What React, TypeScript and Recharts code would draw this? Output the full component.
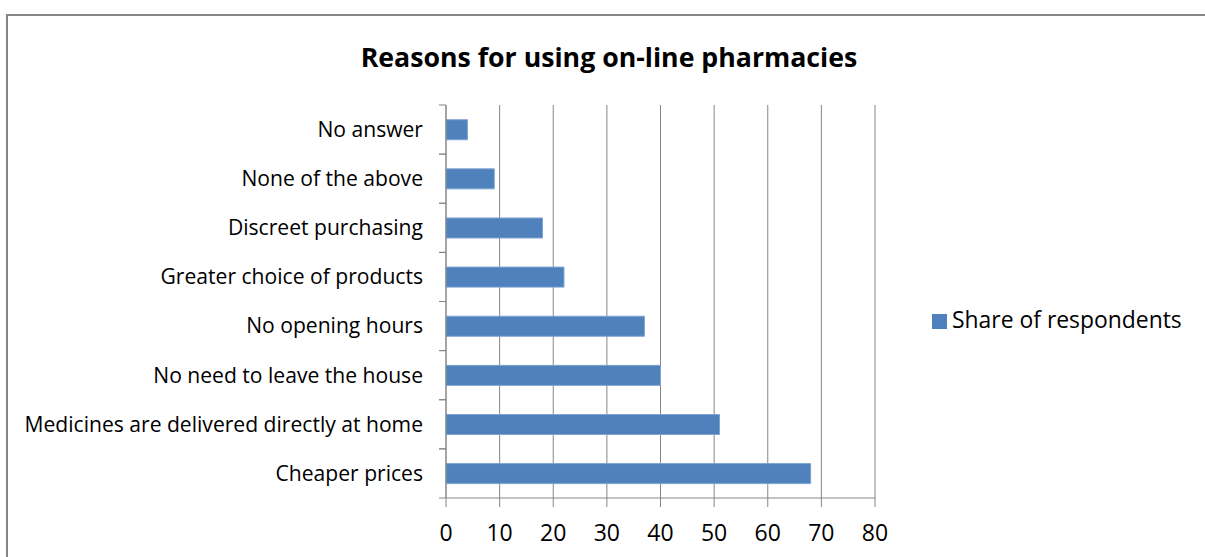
import { BarChart, Bar, XAxis, YAxis, CartesianGrid, Legend } from 'recharts';

const categories = [
  'No answer',
  'None of the above',
  'Discreet purchasing',
  'Greater choice of products',
  'No opening hours',
  'No need to leave the house',
  'Medicines are delivered directly at home',
  'Cheaper prices',
];
const shares = [4, 9, 18, 22, 37, 40, 51, 68];
const xTicks = [0, 10, 20, 30, 40, 50, 60, 70, 80];

const data = categories.map((name, i) => ({ name, share: shares[i] }));

const FONT = '"Open Sans", sans-serif';
const GREY = '#868686';
const BLUE = '#4F81BD';
const PLOT_TOP = 105;
const PLOT_BOTTOM = 498;
const BAND = (PLOT_BOTTOM - PLOT_TOP) / categories.length;

// category label + small boundary ticks like Excel
function CategoryTick(props: any) {
  const { y, payload } = props;
  return (
    <g>
      <line x1={439} x2={446} y1={y - BAND / 2} y2={y - BAND / 2} stroke={GREY} />
      <line x1={439} x2={446} y1={y + BAND / 2} y2={y + BAND / 2} stroke={GREY} />
      <text x={423} y={y} dy="0.35em" textAnchor="end" fontFamily={FONT} fontSize={21.1} fill="#000">
        {payload.value}
      </text>
    </g>
  );
}

function LegendBox(props: any) {
  const item = props.payload && props.payload[0];
  if (!item) return null;
  return (
    <div style={{ position: 'relative', width: 0, height: 0 }}>
      <div style={{ position: 'absolute', left: 931.5, top: 314, width: 15, height: 15, background: item.color }} />
      <div
        style={{
          position: 'absolute',
          left: 952,
          top: 308.7,
          whiteSpace: 'nowrap',
          fontFamily: FONT,
          fontSize: 22.9,
          lineHeight: 1,
          color: '#000',
        }}
      >
        {item.value}
      </div>
    </div>
  );
}

export default function App() {
  return (
    <div style={{ position: 'absolute', left: 0, top: 0, width: 1205, height: 557, background: '#fff', overflow: 'hidden' }}>
      <div
        style={{
          position: 'absolute',
          left: 6,
          top: 14,
          width: 1300,
          height: 700,
          borderTop: `2px solid ${GREY}`,
          borderLeft: `2px solid ${GREY}`,
        }}
      />
      <div
        style={{
          position: 'absolute',
          left: 0,
          top: 38,
          width: 1218,
          textAlign: 'center',
          fontFamily: FONT,
          fontWeight: 700,
          fontSize: 26.7,
          color: '#000',
        }}
      >
        Reasons for using on-line pharmacies
      </div>
      <div style={{ position: 'absolute', left: 0, top: 0 }}>
        <BarChart
          width={1205}
          height={557}
          data={data}
          layout="vertical"
          barCategoryGap="30%"
          margin={{ top: PLOT_TOP, right: 330, bottom: 0, left: 0 }}
        >
          <CartesianGrid horizontal={false} vertical stroke={GREY} />
          <XAxis
            type="number"
            domain={[0, 80]}
            ticks={xTicks}
            interval={0}
            height={557 - PLOT_BOTTOM}
            stroke={GREY}
            tickSize={9}
            tickMargin={18}
            tick={{ fill: '#000', fontFamily: FONT, fontSize: 23 }}
          />
          <YAxis
            type="category"
            dataKey="name"
            width={446}
            stroke={GREY}
            tickLine={false}
            interval={0}
            tick={<CategoryTick />}
          />
          <Legend
            layout="horizontal"
            align="center"
            verticalAlign="middle"
            wrapperStyle={{ left: 0, top: 0, width: 0, height: 0 }}
            content={<LegendBox />}
          />
          <Bar
            dataKey="share"
            name="Share of respondents"
            fill={BLUE}
            stroke="#7EA3D0"
            strokeWidth={1}
            isAnimationActive={false}
          />
        </BarChart>
      </div>
    </div>
  );
}
